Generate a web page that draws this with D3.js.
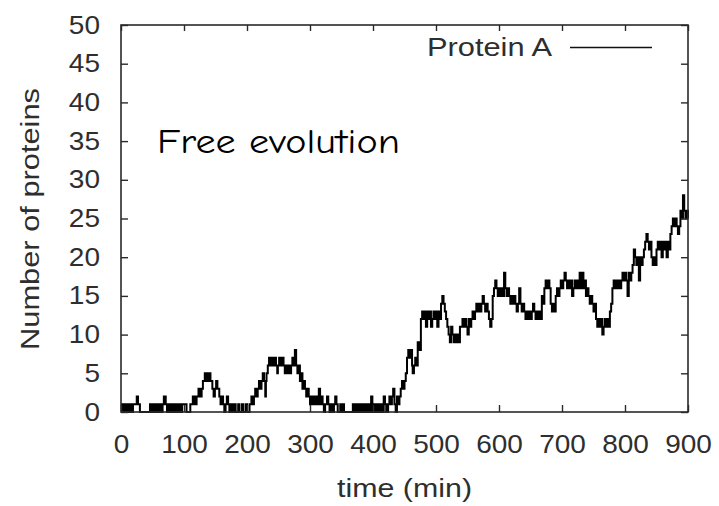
<!DOCTYPE html>
<html>
<head>
<meta charset="utf-8">
<script src="https://cdn.jsdelivr.net/npm/d3@7"></script>
<style>
  html, body { margin: 0; padding: 0; background: #fff; }
  svg { display: block; }
</style>
</head>
<body>
<svg id="chart" width="719" height="506"></svg>
<script>
// ---- data ----
const xTicks = [0, 100, 200, 300, 400, 500, 600, 700, 800, 900];
const yTicks = [0, 5, 10, 15, 20, 25, 30, 35, 40, 45, 50];
const seriesName = "Protein A";
const annotation = "Free evolution";
const xLabel = "time (min)";
const yLabel = "Number of proteins";

// time (min) at which the protein count changes
const times = [
  0,3,6,8,10,12,14,17,19,22,25,27,30,46,48,50,52,54,56,58,60,62,64,66,68,71,73,75,78,80,83,86,88,91,94,97,104,
  110,114,117,120,123,126,128,130,133,136,139,142,145,147,149,151,153,156,158,160,162,164,166,168,170,172,175,177,
  180,182,186,188,192,194,198,200,
  204,207,209,211,213,215,217,219,221,223,225,227,229,230,231,233,235,237,239,241,243,246,248,249,251,254,256,258,260,262,264,266,268,270,272,274,276,278,280,282,284,286,288,290,292,294,296,298,300,302,304,306,308,310,312,314,316,318,320,322,324,327,329,331,334,336,338,340,342,344,348,350,352,354,
  358,368,370,372,374,376,378,380,382,384,386,388,390,392,394,397,399,401,403,405,407,409,411,413,415,417,419,421,424,426,428,430,432,434,436,438,440,442,444,446,448,450,452,454,456,458,460,462,463,465,467,469,471,474,476,478,480,482,484,486,488,490,492,494,496,498,500,502,504,506,508,510,512,514,516,518,520,522,524,526,528,530,532,534,536,538,
  540,542,544,546,548,550,552,554,556,558,560,562,564,566,568,570,572,574,576,578,580,582,584,586,588,590,592,594,596,598,600,602,604,606,608,610,612,614,616,618,620,622,624,626,628,630,632,634,636,638,640,642,644,646,648,650,652,654,656,658,660,662,664,666,
  668,670,672,674,676,678,680,682,684,686,688,690,692,694,696,698,700,702,704,706,708,710,712,714,716,718,720,722,724,726,728,730,732,734,736,738,740,742,744,746,748,750,752,754,756,758,760,762,764,766,768,770,772,774,776,778,780,782,784,786,788,790,792,794,796,798,800,
  802,804,806,808,810,812,814,816,818,820,822,824,826,828,830,832,834,836,838,840,842,844,846,848,850,852,854,856,858,860,862,864,866,868,870,872,874,876,878,880,882,884,886,888,890,892,894,896,898,900
];
// number of proteins after each change
const counts = [
  1,0,1,0,1,0,1,0,1,1,2,1,0,1,0,1,0,1,0,1,0,1,0,1,2,1,0,1,0,1,0,1,0,1,0,1,0,
  1,2,1,2,3,2,3,4,5,4,5,4,3,2,3,4,3,2,1,2,1,0,1,2,1,0,1,0,
  1,0,1,0,1,0,1,0,
  1,2,1,2,3,2,3,4,3,4,5,4,2,4,5,6,7,6,7,6,7,6,5,6,7,6,7,6,5,6,5,6,5,6,7,6,8,6,5,6,4,5,3,4,3,2,3,2,1,2,1,2,1,2,1,3,1,2,1,0,1,2,1,0,1,0,1,2,1,0,1,0,1,0,
  0,1,0,1,0,1,0,1,0,1,0,1,0,1,0,2,0,1,0,1,0,1,0,1,0,2,1,0,1,2,1,2,3,1,0,2,1,2,3,4,3,4,5,7,8,7,8,6,5,6,7,6,9,8,12,13,12,13,11,13,12,13,11,12,13,12,13,11,13,12,14,15,14,13,12,11,10,9,11,10,9,10,9,10,9,11,
  11,12,11,12,11,10,12,11,12,13,12,13,14,13,14,13,14,15,14,13,14,13,12,11,12,15,16,17,16,15,16,15,16,15,18,16,15,16,15,14,15,14,15,14,13,14,16,14,13,14,13,12,13,12,13,12,13,14,13,12,13,12,13,12,
  15,14,16,17,16,17,16,14,13,14,13,15,16,15,16,17,16,17,18,17,16,17,16,17,15,16,17,16,17,16,18,16,18,16,17,15,16,15,14,15,14,13,14,12,11,12,11,12,10,11,12,11,12,11,13,14,16,17,16,17,16,17,16,17,18,17,18,
  17,15,18,17,18,19,21,20,19,20,17,20,19,20,21,22,23,22,21,22,20,19,20,19,21,22,21,22,20,22,21,22,20,22,21,23,24,25,24,25,24,23,24,26,25,28,26,25,26,25
];

(function () {
  const svg = d3.select("#chart");
  const mLeft = 121, mRight = 688, mTop = 25, mBottom = 412;

  const x = d3.scaleLinear().domain([0, 900]).range([mLeft, mRight]);
  const y = d3.scaleLinear().domain([0, 50]).range([mBottom, mTop]);

  const axisColor = "#2a2a2a";
  const textColor = "#2e2e2e";
  const fontSans = "'Liberation Sans', Arial, Helvetica, sans-serif";

  // data line
  const data = times.map((t, i) => ({ t, v: counts[i] }));
  const line = d3.line().x(d => x(d.t)).y(d => y(d.v)).curve(d3.curveStepAfter);
  svg.append("path")
    .datum(data)
    .attr("d", line)
    .attr("fill", "none")
    .attr("stroke", "#000")
    .attr("stroke-width", 2)
    .attr("stroke-linejoin", "miter");

  // frame
  svg.append("rect")
    .attr("x", mLeft).attr("y", mTop)
    .attr("width", mRight - mLeft).attr("height", mBottom - mTop)
    .attr("fill", "none").attr("stroke", axisColor).attr("stroke-width", 1.6);

  function styleAxis(g) {
    g.select(".domain").remove();
    g.selectAll(".tick line").attr("stroke", axisColor).attr("stroke-width", 1.4);
    g.selectAll("text")
      .attr("fill", textColor)
      .style("font-family", fontSans)
      .style("font-size", "25px");
  }
  function stretch(g, f) {
    g.selectAll("text").each(function () {
      const w = this.getComputedTextLength();
      d3.select(this).attr("textLength", w * f).attr("lengthAdjust", "spacingAndGlyphs");
    });
  }

  // bottom axis
  const gx = svg.append("g").attr("transform", `translate(0,${mBottom})`)
    .call(d3.axisBottom(x).tickValues(xTicks).tickFormat(d3.format("d")).tickSizeInner(-7).tickSizeOuter(0).tickPadding(23));
  styleAxis(gx);
  stretch(gx, 1.12);

  // left axis
  const gy = svg.append("g").attr("transform", `translate(${mLeft},0)`)
    .call(d3.axisLeft(y).tickValues(yTicks).tickFormat(d3.format("d")).tickSizeInner(-7).tickSizeOuter(0).tickPadding(21));
  styleAxis(gy);
  stretch(gy, 1.12);

  // top & right mirrored ticks
  const gt = svg.append("g").attr("transform", `translate(0,${mTop})`)
    .call(d3.axisTop(x).tickValues(xTicks).tickFormat("").tickSizeInner(-6).tickSizeOuter(0));
  styleAxis(gt);
  const gr = svg.append("g").attr("transform", `translate(${mRight},0)`)
    .call(d3.axisRight(y).tickValues(yTicks).tickFormat("").tickSizeInner(-7).tickSizeOuter(0));
  styleAxis(gr);

  // axis titles
  svg.append("text")
    .attr("x", 404.5).attr("y", 497)
    .attr("text-anchor", "middle")
    .attr("fill", textColor)
    .style("font-family", fontSans).style("font-size", "25px")
    .attr("textLength", 135).attr("lengthAdjust", "spacingAndGlyphs")
    .text(xLabel);

  svg.append("text")
    .attr("transform", `translate(39,219) rotate(-90)`)
    .attr("text-anchor", "middle")
    .attr("fill", textColor)
    .style("font-family", fontSans).style("font-size", "25px")
    .attr("textLength", 262).attr("lengthAdjust", "spacingAndGlyphs")
    .text(yLabel);

  // legend
  svg.append("text")
    .attr("x", 552).attr("y", 56)
    .attr("text-anchor", "end")
    .attr("fill", textColor)
    .style("font-family", fontSans).style("font-size", "25px")
    .attr("textLength", 125).attr("lengthAdjust", "spacingAndGlyphs")
    .text(seriesName);
  svg.append("line")
    .attr("x1", 570).attr("x2", 652).attr("y1", 47.5).attr("y2", 47.5)
    .attr("stroke", "#111").attr("stroke-width", 1.6);

  // annotation
  svg.append("text")
    .attr("x", 157).attr("y", 153)
    .attr("fill", "#000")
    .style("font-family", "'Comic Sans MS', 'Comic Neue', 'DejaVu Sans', sans-serif")
    .style("font-size", "34px")
    .attr("textLength", 243).attr("lengthAdjust", "spacingAndGlyphs")
    .text(annotation);
})();
</script>
</body>
</html>
